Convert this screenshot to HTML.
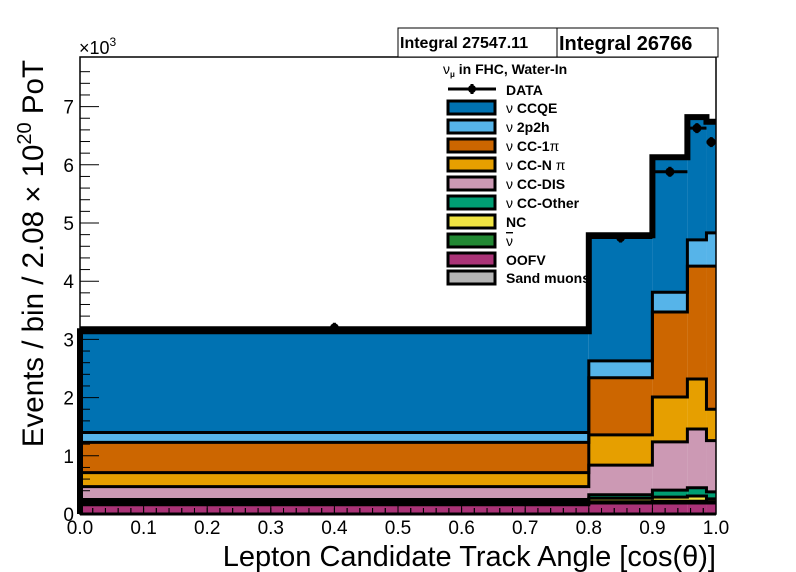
<!DOCTYPE html>
<html><head><meta charset="utf-8"><style>
body{margin:0;background:#fff}
svg{display:block;font-family:"Liberation Sans",sans-serif}
</style></head><body>
<svg id="c" width="796" height="572">
<rect width="796" height="572" fill="#fff"/>
<g id="marks"></g>
<g id="axes"></g>
</svg>
<script>
const edges=[0,0.8,0.9,0.955,0.985,1.0];
const compNames=["Sand muons","OOFV","anti-nu","NC","CC-Other","CC-DIS","CC-Npi","CC-1pi","2p2h","CCQE"];
const compColors=["#b4b4b4","#aa3377","#228833","#f0e442","#009e73","#cc99b4","#e69f00","#cc6600","#56b4e9","#0072b2"];
const sand=[0,0,0,0,0];
const oofv=[0.16,0.19,0.19,0.19,0.19];
const antinu=[0.02,0.02,0.03,0.03,0.02];
const nc=[0.02,0.06,0.07,0.09,0.05];
const ccother=[0.05,0.06,0.12,0.14,0.12];
const ccdis=[0.22,0.51,0.83,1.01,0.88];
const ccnpi=[0.24,0.52,0.77,0.86,0.54];
const cc1pi=[0.52,0.98,1.46,1.94,2.46];
const twop2h=[0.17,0.29,0.34,0.45,0.57];
const ccqe=[1.74,2.16,2.32,2.11,1.91];
const dataVals=[3.20,4.75,5.88,6.63,6.39];
const yTicks=[0,1,2,3,4,5,6,7];
const xTicks=[0,0.1,0.2,0.3,0.4,0.5,0.6,0.7,0.8,0.9,1.0];

const X0=80,X1=716,Y0=514,YT=57,PER=58.2;
const sx=v=>X0+v*(X1-X0);
const sy=v=>Y0-v*PER;
const NS="http://www.w3.org/2000/svg";
function mk(tag,attrs,parent){const e=document.createElementNS(NS,tag);for(const k in attrs)e.setAttribute(k,attrs[k]);parent.appendChild(e);return e;}
const marks=document.getElementById('marks'),axes=document.getElementById('axes');
const comps=[sand,oofv,antinu,nc,ccother,ccdis,ccnpi,cc1pi,twop2h,ccqe];
let cum=[0,0,0,0,0];
const tops=[];
comps.forEach((c,ci)=>{
  const lo=cum.slice();cum=cum.map((v,i)=>v+c[i]);tops.push(cum.slice());
  for(let i=0;i<5;i++){
    const r=mk('rect',{x:sx(edges[i]),y:sy(cum[i]),width:sx(edges[i+1])-sx(edges[i]),height:Math.max(0,sy(lo[i])-sy(cum[i])),fill:compColors[ci]},marks);
    
    
  }
});
for(let v=0.02;v<1;v+=0.02){mk('line',{x1:sx(v),x2:sx(v),y1:Y0,y2:Y0-6,stroke:'#000','stroke-width':1},marks);}
tops.forEach((t,ci)=>{
  let d='M'+sx(0)+','+Y0;
  for(let i=0;i<5;i++){d+=' L'+sx(edges[i])+','+sy(t[i])+' L'+sx(edges[i+1])+','+sy(t[i]);}
  const last=ci===tops.length-1;
  const p=mk('path',{d:d,fill:'none',stroke:'#000','stroke-width':last?6:3},marks);
  
  
});
dataVals.forEach((v,i)=>{
  const cx=sx((edges[i]+edges[i+1])/2);
  const g=mk('g',{},marks);
  
  
  mk('line',{x1:sx(edges[i]),x2:sx(edges[i+1]),y1:sy(v),y2:sy(v),stroke:'#000','stroke-width':3},g);
  mk('line',{x1:cx,x2:cx,y1:sy(v)-5,y2:sy(v)+5,stroke:'#000','stroke-width':3},g);
  mk('circle',{cx:cx,cy:sy(v),r:4.5,fill:'#000'},g);
});
const fr=mk('rect',{x:X0,y:YT,width:X1-X0,height:Y0-YT,fill:'none',stroke:'#000','stroke-width':1.5},axes);

for(let v=0;v<=7.8;v+=0.2){const maj=Math.abs(v-Math.round(v))<1e-6;mk('line',{x1:X0,x2:X0+(maj?19:10),y1:sy(v),y2:sy(v),stroke:'#000','stroke-width':1},axes);}
yTicks.forEach(v=>{const t=mk('text',{x:X0-6,y:sy(v)+7,'text-anchor':'end','font-size':19},axes);t.textContent=v;
});
for(let v=0;v<=1.0001;v+=0.02){const maj=Math.abs(v*10-Math.round(v*10))<1e-6;mk('line',{x1:sx(v),x2:sx(v),y1:Y0,y2:Y0-(maj?12:6),stroke:'#000','stroke-width':1},axes);}
xTicks.forEach(v=>{const t=mk('text',{x:sx(v),y:534,'text-anchor':'middle','font-size':19},axes);t.textContent=v.toFixed(1);
});
</script>
<svg width="796" height="572" style="position:absolute;left:0;top:0" font-family="Liberation Sans, sans-serif">
<text x="79" y="54" font-size="18">×10<tspan font-size="12" dy="-8">3</tspan></text>
<text x="716" y="566" font-size="29" text-anchor="end">Lepton Candidate Track Angle [cos(θ)]</text>
<text transform="translate(43,60) rotate(-90)" font-size="29.5" text-anchor="end">Events / bin / 2.08 × 10<tspan font-size="20" dy="-12">20</tspan><tspan dy="12"> PoT</tspan></text>
<g><rect x="398" y="28" width="159" height="29" fill="#fff" stroke="#000" stroke-width="1"/><text x="400" y="48" font-size="16" font-weight="bold">Integral 27547.11</text></g>
<g><rect x="557" y="28" width="161" height="29" fill="#fff" stroke="#000" stroke-width="1"/><text x="559" y="50" font-size="20" font-weight="bold">Integral 26766</text></g>
<g font-size="14" font-weight="bold">
<text x="443" y="74"><tspan font-weight="normal">ν</tspan><tspan font-size="8" dy="3">μ</tspan><tspan dy="-3"> in FHC, Water-In</tspan></text>
<g><line x1="448" x2="496" y1="89" y2="89" stroke="#000" stroke-width="3"/><circle cx="472" cy="89" r="4" fill="#000"/><line x1="472" x2="472" y1="84" y2="94" stroke="#000" stroke-width="3"/><text x="506" y="95">DATA</text></g>
<g><rect x="448" y="101" width="47" height="13" fill="#0072b2" stroke="#000" stroke-width="3"/><text x="506" y="113"><tspan font-weight="normal">ν</tspan> CCQE</text></g>
<g><rect x="448" y="120" width="47" height="13" fill="#56b4e9" stroke="#000" stroke-width="3"/><text x="506" y="132"><tspan font-weight="normal">ν</tspan> 2p2h</text></g>
<g><rect x="448" y="139" width="47" height="13" fill="#cc6600" stroke="#000" stroke-width="3"/><text x="506" y="151"><tspan font-weight="normal">ν</tspan> CC-1<tspan font-weight="normal">π</tspan></text></g>
<g><rect x="448" y="158" width="47" height="13" fill="#e69f00" stroke="#000" stroke-width="3"/><text x="506" y="170"><tspan font-weight="normal">ν</tspan> CC-N <tspan font-weight="normal">π</tspan></text></g>
<g><rect x="448" y="177" width="47" height="13" fill="#cc99b4" stroke="#000" stroke-width="3"/><text x="506" y="189"><tspan font-weight="normal">ν</tspan> CC-DIS</text></g>
<g><rect x="448" y="196" width="47" height="13" fill="#009e73" stroke="#000" stroke-width="3"/><text x="506" y="208"><tspan font-weight="normal">ν</tspan> CC-Other</text></g>
<g><rect x="448" y="215" width="47" height="13" fill="#f0e442" stroke="#000" stroke-width="3"/><text x="506" y="227">NC</text></g>
<g><rect x="448" y="234" width="47" height="13" fill="#228833" stroke="#000" stroke-width="3"/><text x="506" y="246" font-weight="normal" text-decoration="overline">ν</text></g>
<g><rect x="448" y="253" width="47" height="13" fill="#aa3377" stroke="#000" stroke-width="3"/><text x="506" y="265">OOFV</text></g>
<g><rect x="448" y="271" width="47" height="13" fill="#b4b4b4" stroke="#000" stroke-width="3"/><text x="506" y="283">Sand muons</text></g>
</g>
</svg>
</body></html>
